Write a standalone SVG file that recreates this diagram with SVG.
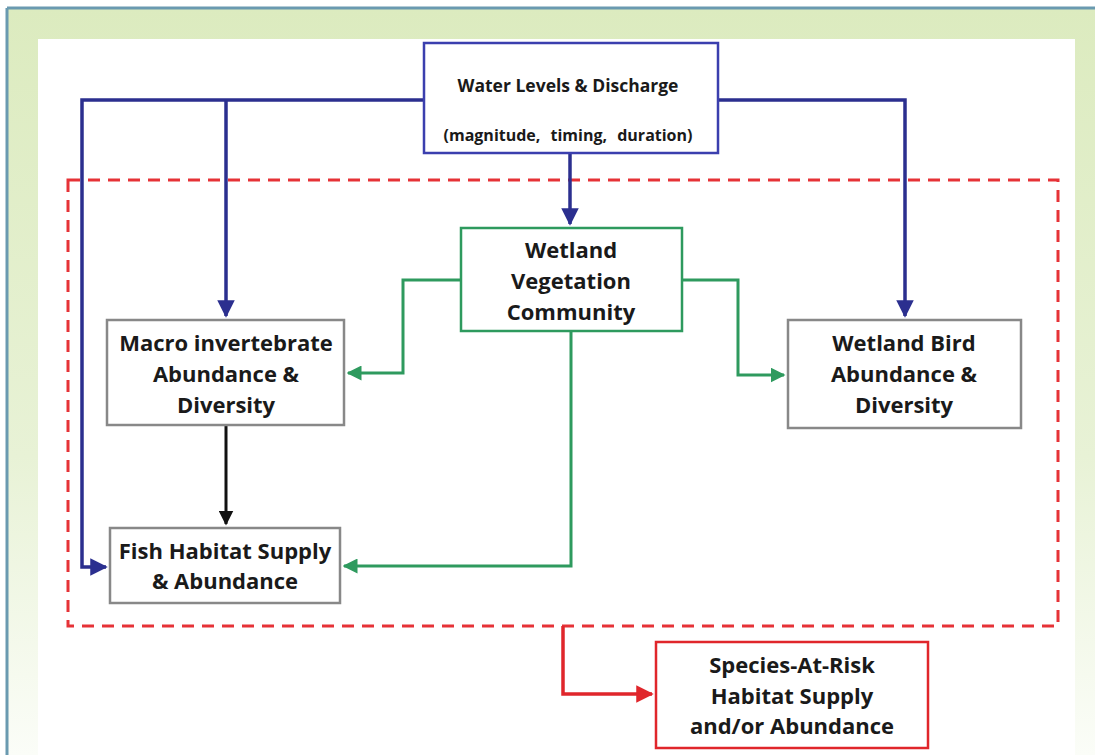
<svg xmlns="http://www.w3.org/2000/svg" width="1095" height="755" viewBox="0 0 1095 755">
<defs>
<linearGradient id="bg" x1="0" y1="0" x2="0" y2="1">
<stop offset="0" stop-color="#dcebbf"/>
<stop offset="0.6" stop-color="#e8f2d6"/>
<stop offset="1" stop-color="#fbfdf8"/>
</linearGradient>
<marker id="aBlue" viewBox="0 0 10 10" refX="9" refY="5" markerWidth="5" markerHeight="5" orient="auto" markerUnits="strokeWidth"><path d="M0,0 L10,5 L0,10 Z" fill="#2b2f8f"/></marker>
<marker id="aGreen" viewBox="0 0 10 10" refX="9" refY="5" markerWidth="5" markerHeight="5" orient="auto" markerUnits="strokeWidth"><path d="M0,0 L10,5 L0,10 Z" fill="#2e9a5e"/></marker>
<marker id="aBlack" viewBox="0 0 10 10" refX="9" refY="5" markerWidth="5" markerHeight="5" orient="auto" markerUnits="strokeWidth"><path d="M0,0 L10,5 L0,10 Z" fill="#111"/></marker>
<marker id="aRed" viewBox="0 0 10 10" refX="9" refY="5" markerWidth="5" markerHeight="5" orient="auto" markerUnits="strokeWidth"><path d="M0,0 L10,5 L0,10 Z" fill="#e0262b"/></marker>
</defs>
<style>
.box{fill:#fff;stroke-width:2.5}
.t{font-family:"Open Sans",Lato,"Liberation Sans",sans-serif;font-weight:bold;fill:#1a1a1a;text-anchor:middle}
.big{font-size:22px}
.blue{fill:none;stroke:#2b2f8f;stroke-width:3.5}
.green{fill:none;stroke:#2e9a5e;stroke-width:3}
.black{fill:none;stroke:#111;stroke-width:3}
.red{fill:none;stroke:#e0262b;stroke-width:3.5}
</style>
<rect x="0" y="0" width="1095" height="755" fill="#fff"/>
<rect x="7" y="8" width="1088" height="747" fill="url(#bg)"/>
<rect x="38" y="39" width="1037" height="716" fill="#fff"/>
<line x1="7" y1="8" x2="1095" y2="8" stroke="#6a9ab0" stroke-width="3"/>
<line x1="7" y1="8" x2="7" y2="755" stroke="#6a9ab0" stroke-width="3"/>

<rect id="boundary" x="68" y="180" width="990" height="446" fill="none" stroke="#e63237" stroke-width="3" stroke-dasharray="12,8"/>

<g id="connectors">
<path class="blue" d="M424,100 H82 V567 H106" marker-end="url(#aBlue)"/>
<path class="blue" d="M226,100 V316" marker-end="url(#aBlue)"/>
<path class="blue" d="M718,100 H905 V316" marker-end="url(#aBlue)"/>
<path class="blue" d="M570,153 V224" marker-end="url(#aBlue)"/>
<path class="green" d="M461,280 H403 V373 H348" marker-end="url(#aGreen)"/>
<path class="green" d="M682,280 H738 V375 H784" marker-end="url(#aGreen)"/>
<path class="green" d="M571,331 V566 H344" marker-end="url(#aGreen)"/>
<path class="black" d="M226,425 V524" marker-end="url(#aBlack)"/>
<path class="red" d="M563,626 V694 H652" marker-end="url(#aRed)"/>
</g>

<g id="water">
<rect class="box" x="424" y="43" width="294" height="110" stroke="#3b3fae" stroke-width="2"/>
<text class="t" x="568" y="92" font-size="17.5">Water Levels &amp; Discharge</text>
<text class="t" x="568" y="141" font-size="16" word-spacing="6">(magnitude, timing, duration)</text>
</g>

<g id="vegetation">
<rect class="box" x="461" y="228" width="221" height="103" stroke="#2e9a5e"/>
<text class="t big" x="571" y="258">Wetland</text>
<text class="t big" x="571" y="289">Vegetation</text>
<text class="t big" x="571" y="320">Community</text>
</g>

<g id="macro">
<rect class="box" x="107" y="320" width="237" height="105" stroke="#888"/>
<text class="t big" x="226" y="351">Macro invertebrate</text>
<text class="t big" x="226" y="382">Abundance &amp;</text>
<text class="t big" x="226" y="413">Diversity</text>
</g>

<g id="bird">
<rect class="box" x="788" y="320" width="233" height="108" stroke="#888"/>
<text class="t big" x="904" y="351">Wetland Bird</text>
<text class="t big" x="904" y="382">Abundance &amp;</text>
<text class="t big" x="904" y="413">Diversity</text>
</g>

<g id="fish">
<rect class="box" x="110" y="528" width="230" height="75" stroke="#888"/>
<text class="t big" x="225" y="559">Fish Habitat Supply</text>
<text class="t big" x="225" y="589">&amp; Abundance</text>
</g>

<g id="species">
<rect class="box" x="656" y="642" width="272" height="106" stroke="#e0262b"/>
<text class="t big" x="792" y="673">Species-At-Risk</text>
<text class="t big" x="792" y="704">Habitat Supply</text>
<text class="t big" x="792" y="734">and/or Abundance</text>
</g>
</svg>
